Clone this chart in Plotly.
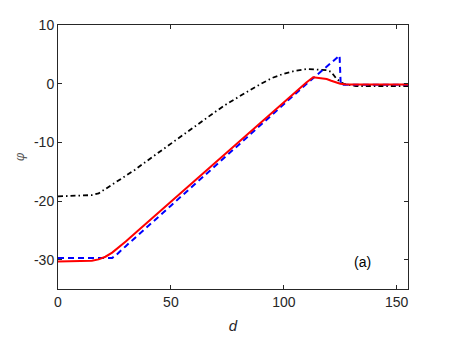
import plotly.graph_objects as go

# Red solid curve
red_x = [0, 10, 15, 18, 21, 24, 27, 30, 35, 40, 50, 60, 70, 80, 90, 100, 110, 113, 115, 117, 119, 121, 123, 125, 127, 130, 155]
red_y = [-30.3, -30.3, -30.2, -29.95, -29.5, -28.8, -27.9, -26.9, -25.2, -23.5, -20.1, -16.7, -13.3, -9.9, -6.5, -3.1, 0.2, 1.1, 1.0, 1.0, 0.8, 0.5, 0.2, 0.0, -0.1, -0.15, -0.15]

# Blue dashed curve
blue_x = [0, 24, 25.5, 30, 50, 70, 90, 110, 124.7, 125.2, 155]
blue_y = [-29.7, -29.7, -29.3, -27.7, -20.8, -13.9, -6.95, -0.05, 4.8, -0.2, -0.2]

# Black dash-dot curve
black_x = [0, 10, 15, 18, 21, 24, 28, 34, 40, 50, 60, 70, 75, 80, 85, 90, 95, 100, 105, 110, 115, 119, 121, 123, 125, 127, 130, 132, 155]
black_y = [-19.2, -19.15, -19.0, -18.7, -18.0, -17.2, -16.2, -14.7, -13.0, -10.2, -7.4, -4.7, -3.4, -2.2, -1.1, 0.0, 1.0, 1.7, 2.2, 2.5, 2.4, 2.3, 2.0, 1.0, 0.3, -0.1, -0.3, -0.4, -0.4]

x_ticks = [0, 50, 100, 150]
x_ticklabels = ["0", "50", "100", "150"]
y_ticks = [-30, -20, -10, 0, 10]
y_ticklabels = ["-30", "-20", "-10", "0", "10"]

fig = go.Figure()
fig.add_trace(go.Scatter(x=black_x, y=black_y, mode="lines",
                         line=dict(color="black", width=1.8, dash="5px,3px,1.5px,3px"),
                         showlegend=False))
fig.add_trace(go.Scatter(x=blue_x, y=blue_y, mode="lines",
                         line=dict(color="#0000ff", width=2, dash="6px,4px"),
                         showlegend=False))
fig.add_trace(go.Scatter(x=red_x, y=red_y, mode="lines",
                         line=dict(color="#ff0000", width=2),
                         showlegend=False))

axis_common = dict(
    showgrid=False, zeroline=False, showline=True, mirror="ticks",
    linecolor="#262626", linewidth=1, ticks="inside", ticklen=4,
    tickcolor="#262626", tickwidth=1, automargin=False,
    tickfont=dict(family="Liberation Sans, Arial, sans-serif", size=14, color="#262626"),
)

fig.update_xaxes(range=[0, 155], tickvals=x_ticks, ticktext=x_ticklabels,
                 title=dict(text="<i>d</i>", standoff=11,
                            font=dict(family="Liberation Sans, Arial, sans-serif", size=15, color="#262626")),
                 **axis_common)
fig.update_yaxes(range=[-35, 10], tickvals=y_ticks, ticktext=y_ticklabels,
                 title=dict(text="<i>φ</i>", standoff=6,
                            font=dict(family="DejaVu Serif, serif", size=12, color="#555555")),
                 **axis_common)

fig.add_annotation(x=135, y=-30.4, text="(a)", showarrow=False,
                   font=dict(family="Liberation Sans, Arial, sans-serif", size=14, color="black"))

fig.update_layout(width=450, height=338,
                  margin=dict(l=50, r=50, t=17, b=57),
                  plot_bgcolor="white", paper_bgcolor="white")

fig.write_html("out.html")
